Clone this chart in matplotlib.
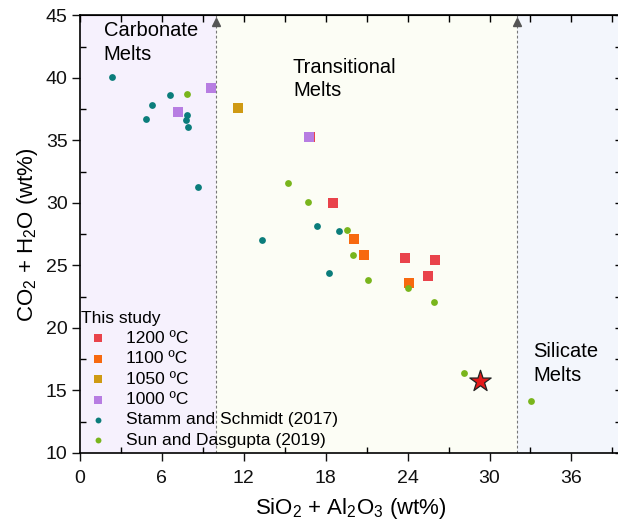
import matplotlib

matplotlib.use("Agg")
import matplotlib.pyplot as plt  # noqa: E402
from matplotlib.ticker import MultipleLocator  # noqa: E402

plt.rcParams["font.family"] = ["Liberation Sans", "DejaVu Sans"]
plt.rcParams["mathtext.fontset"] = "custom"
plt.rcParams["mathtext.rm"] = "Liberation Sans"
plt.rcParams["mathtext.it"] = "Liberation Sans:italic"

# this study, by run temperature
T1200_X = [16.85, 18.51, 23.79, 25.98, 25.47]
T1200_Y = [35.31, 30.02, 25.57, 25.46, 24.13]
T1100_X = [20.10, 20.81, 24.08]
T1100_Y = [27.11, 25.83, 23.63]
T1050_X = [11.6]
T1050_Y = [37.60]
T1000_X = [9.62, 7.2, 16.75]
T1000_Y = [39.2, 37.28, 35.31]

# literature
STAMM_X = [2.32, 6.59, 5.27, 4.84, 7.82, 7.77, 7.91, 8.62, 13.31, 17.34, 18.97, 18.24]
STAMM_Y = [40.08, 38.61, 37.81, 36.69, 37.07, 36.61, 36.11, 31.26, 27.03, 28.18, 27.75, 24.37]
SUN_X = [7.82, 15.21, 16.73, 19.58, 20.02, 21.12, 24.05, 25.93, 28.13, 33.02]
SUN_Y = [38.72, 31.58, 30.10, 27.80, 25.81, 23.81, 23.20, 22.11, 16.38, 14.17]

STAR_X, STAR_Y = [29.3], [15.77]

BOUNDS = [10, 32]

fig = plt.figure(figsize=(6.18, 5.24), dpi=100)
ax = fig.add_axes([0.1294, 0.1355, 0.877, 0.835])
ax.set_xlim(0, 39.7)
ax.set_ylim(10, 45)

ax.axvspan(0, BOUNDS[0], color="#f6f1fd", lw=0, zorder=0)
ax.axvspan(BOUNDS[0], BOUNDS[1], color="#fcfdf5", lw=0, zorder=0)
ax.axvspan(BOUNDS[1], 40, color="#f3f6fc", lw=0, zorder=0)
for b in BOUNDS:
    ax.axvline(b, color="#777777", lw=0.8, ls=(0, (2.5, 2)), zorder=1)
    ax.plot([b], [44.45], marker="^", color="#555555", ms=6, zorder=2,
            clip_on=False)

sq = 62
ax.scatter(T1200_X, T1200_Y, marker="s", s=sq, color="#e9434b", lw=0,
           label="1200 ºC", zorder=3)
ax.scatter(T1100_X, T1100_Y, marker="s", s=sq, color="#f7690f", lw=0,
           label="1100 ºC", zorder=3)
ax.scatter(T1050_X, T1050_Y, marker="s", s=sq, color="#cf9a13", lw=0,
           label="1050 ºC", zorder=3)
ax.scatter(T1000_X, T1000_Y, marker="s", s=sq, color="#b77de2", lw=0,
           label="1000 ºC", zorder=3)
ax.scatter(STAMM_X, STAMM_Y, marker="o", s=24, color="#0b7d7b", lw=0,
           label="Stamm and Schmidt (2017)", zorder=3)
ax.scatter(SUN_X, SUN_Y, marker="o", s=24, color="#79b51c", lw=0,
           label="Sun and Dasgupta (2019)", zorder=3)
ax.scatter(STAR_X, STAR_Y, marker="*", s=260, color="#e41a1a",
           edgecolor="#222222", lw=0.9, zorder=4)

ax.text(1.75, 44.55, "Carbonate\nMelts", fontsize=14.5, va="top",
        linespacing=1.3)
ax.text(15.6, 41.6, "Transitional\nMelts", fontsize=14.5, va="top",
        linespacing=1.3)
ax.text(33.2, 18.85, "Silicate\nMelts", fontsize=14.5, va="top",
        linespacing=1.3)

ax.xaxis.set_major_locator(MultipleLocator(6))
ax.xaxis.set_minor_locator(MultipleLocator(3))
ax.yaxis.set_major_locator(MultipleLocator(5))
ax.yaxis.set_minor_locator(MultipleLocator(2.5))
ax.tick_params(which="major", direction="out", length=6, width=1,
               labelsize=14, colors="#111111", pad=3)
ax.tick_params(axis="x", which="major", pad=6)
ax.tick_params(which="minor", direction="in", length=4, width=1)
for s in ax.spines.values():
    s.set_linewidth(1.2)

top = ax.secondary_xaxis("top")
top.xaxis.set_major_locator(MultipleLocator(3))
top.tick_params(direction="in", length=5, width=1, labeltop=False)
right = ax.secondary_yaxis("right")
right.yaxis.set_major_locator(MultipleLocator(2.5))
right.tick_params(direction="in", length=5, width=1, labelright=False)

ax.set_xlabel("SiO$_2$ + Al$_2$O$_3$ (wt%)", fontsize=16, labelpad=7)
ax.set_ylabel("CO$_2$ + H$_2$O (wt%)", fontsize=16, labelpad=4)

leg = ax.legend(loc="lower left", bbox_to_anchor=(-0.018, -0.012),
                title="This study", title_fontsize=12.5, fontsize=12.5,
                frameon=False, handletextpad=0.6, labelspacing=0.3,
                borderaxespad=0.2, alignment="left")
for h in leg.legend_handles[:4]:
    h.set_sizes([36])
for h in leg.legend_handles[4:]:
    h.set_sizes([18])

fig.savefig("out.png", dpi=100)
